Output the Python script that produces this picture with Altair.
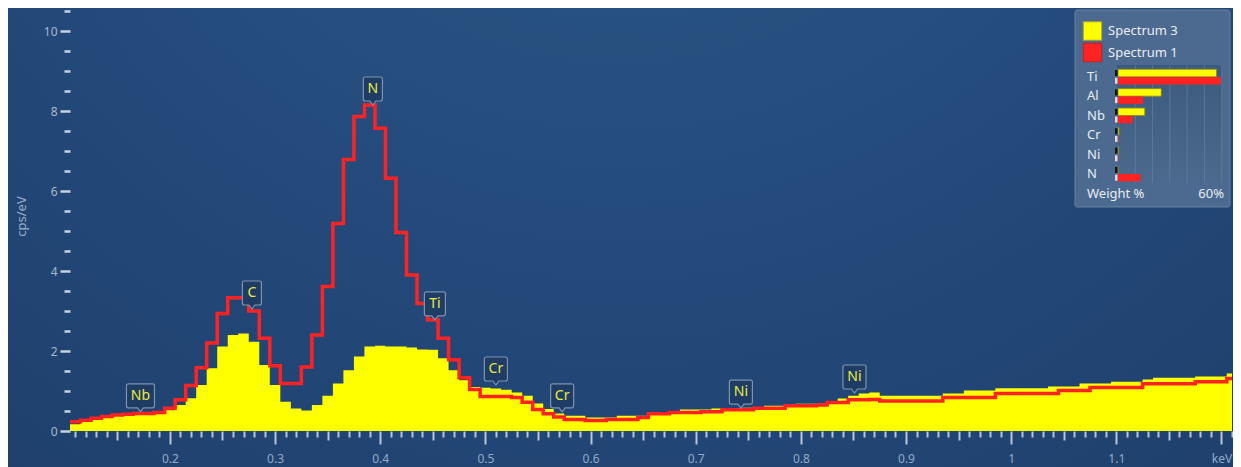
import altair as alt
import pandas as pd

FONT = "Noto Sans"

# ---------------- data ----------------
# spectra: 10 eV channels, centres 0.11 ... 1.21 keV
channel_centres = [round(0.11 + 0.01 * i, 2) for i in range(111)]
channel_width = 0.01

spectrum1 = [  # red line (Spectrum 1), cps/eV
    0.23, 0.27, 0.32, 0.36, 0.40, 0.42, 0.44, 0.44, 0.46, 0.57,
    0.78, 1.14, 1.58, 2.20, 2.94, 3.33, 3.33, 3.00, 2.32, 1.63,
    1.19, 1.19, 1.60, 2.40, 3.61, 5.19, 6.79, 7.86, 8.15, 7.57,
    6.32, 4.96, 3.90, 3.19, 2.78, 2.32, 1.78, 1.33, 1.04, 0.86,
    0.86, 0.86, 0.84, 0.72, 0.54, 0.43, 0.35, 0.29, 0.29, 0.26,
    0.26, 0.29, 0.29, 0.29, 0.34, 0.43, 0.43, 0.46, 0.46, 0.46,
    0.48, 0.48, 0.53, 0.53, 0.53, 0.57, 0.57, 0.57, 0.63, 0.63,
    0.63, 0.65, 0.71, 0.71, 0.78, 0.78, 0.79, 0.75, 0.75, 0.75,
    0.75, 0.75, 0.75, 0.84, 0.84, 0.84, 0.84, 0.84, 0.94, 0.94,
    0.94, 0.94, 0.94, 0.94, 1.01, 1.01, 1.01, 1.09, 1.09, 1.09,
    1.09, 1.09, 1.18, 1.18, 1.18, 1.18, 1.18, 1.23, 1.23, 1.23,
    1.31,
]
spectrum3 = [  # yellow area (Spectrum 3), cps/eV
    0.17, 0.23, 0.29, 0.34, 0.38, 0.41, 0.43, 0.44, 0.45, 0.52,
    0.65, 0.82, 1.15, 1.57, 2.11, 2.40, 2.44, 2.23, 1.65, 1.15,
    0.73, 0.56, 0.51, 0.65, 0.88, 1.19, 1.52, 1.86, 2.11, 2.13,
    2.11, 2.11, 2.09, 2.04, 2.03, 1.82, 1.52, 1.27, 1.10, 1.08,
    1.06, 1.03, 0.96, 0.88, 0.69, 0.55, 0.44, 0.38, 0.38, 0.34,
    0.34, 0.34, 0.38, 0.38, 0.38, 0.42, 0.46, 0.46, 0.54, 0.54,
    0.54, 0.56, 0.57, 0.57, 0.58, 0.58, 0.63, 0.63, 0.63, 0.68,
    0.68, 0.68, 0.75, 0.81, 0.88, 0.94, 0.96, 0.88, 0.88, 0.88,
    0.88, 0.88, 0.88, 0.94, 0.94, 1.01, 1.01, 1.01, 1.07, 1.07,
    1.07, 1.07, 1.07, 1.11, 1.11, 1.11, 1.19, 1.19, 1.19, 1.23,
    1.23, 1.23, 1.29, 1.33, 1.33, 1.33, 1.33, 1.36, 1.36, 1.36,
    1.44,
]

series_names = ["Spectrum 3", "Spectrum 1"]
series_colors = ["#ffff00", "#ff2222"]

# peak markers
peak_labels = ["Nb", "C", "N", "Ti", "Cr", "Cr", "Ni", "Ni"]
peak_energy = [0.172, 0.278, 0.393, 0.452, 0.510, 0.573, 0.743, 0.851]
peak_height = [0.48, 3.05, 8.15, 2.78, 1.15, 0.48, 0.57, 0.95]

# weight % mini chart in the legend
elements = ["Ti", "Al", "Nb", "Cr", "Ni", "N"]
weight_spec3 = [57.0, 25.0, 15.5, 0.6, 0.3, 0.0]
weight_spec1 = [59.5, 14.5, 8.5, 0.3, 0.2, 13.0]
weight_grid = [10, 20, 30, 40, 50, 60]
weight_max = 60

x_domain = [0.105, 1.21]
y_domain = [0, 10.5]
x_tick_values = [round(0.11 + 0.01 * i, 2) for i in range(111)]
y_tick_values = [0.5 * i for i in range(22)]

# ---------------- tables ----------------
edges = [round(c - channel_width / 2, 3) for c in channel_centres]
spec_df = pd.DataFrame({
    "e": edges + [round(channel_centres[-1] + channel_width / 2, 3)],
    "s1": spectrum1 + [spectrum1[-1]],
    "s3": spectrum3 + [spectrum3[-1]],
})
peak_df = pd.DataFrame({"el": peak_labels, "energy": peak_energy, "tip": peak_height})
mini_df = pd.DataFrame({"el": elements, "w3": weight_spec3, "w1": weight_spec1})
grid_df = pd.DataFrame({"g": weight_grid})
leg_df = pd.DataFrame({"series": series_names})
one = pd.DataFrame({"k": [0]})

W, H = 1162, 420

xs = alt.Scale(domain=x_domain, nice=False, zero=False)
ys = alt.Scale(domain=y_domain, nice=False, zero=False)

MAJ_X = "abs(datum.value*10 - round(datum.value*10)) < 0.001"
MID_X = "abs(datum.value*20 - round(datum.value*20)) < 0.001"
MAJ_Y = "abs(datum.value/2 - round(datum.value/2)) < 0.001"

x_axis = alt.Axis(
    values=x_tick_values, domain=False, grid=False, title=None, zindex=2,
    tickSize={"condition": [{"test": MAJ_X, "value": 13}, {"test": MID_X, "value": 9}], "value": 6},
    tickWidth=2, tickColor="#b8c7d8",
    labelExpr=f"{MAJ_X} ? (abs(datum.value - 1.2) < 0.001 ? 'keV' : format(datum.value, '~g')) : ''",
    labelFlush=False, labelOverlap=False, labelPadding=9, labelBaseline="top",
    labelFont=FONT, labelFontSize=12, labelColor="#93abc6",
)
y_axis = alt.Axis(
    values=y_tick_values, domain=False, grid=False, zindex=2,
    tickSize={"condition": {"test": MAJ_Y, "value": 10}, "value": 6},
    tickWidth=2.5, tickColor="#c6d2e0",
    labelExpr=f"{MAJ_Y} ? format(datum.value, 'd') : ''",
    labelOverlap=False, labelPadding=3,
    labelFont=FONT, labelFontSize=12, labelColor="#a6b8cd",
    title="cps/eV", titleFont=FONT, titleFontSize=13, titleFontWeight="normal",
    titleColor="#98adc4", titleX=-49, titleY=205, titleAngle=270,
    titleAlign="center", titleBaseline="middle",
)

# ---------------- background ----------------
bg = alt.Chart(one).mark_rect(
    color={"gradient": "radial", "x1": 0.5, "y1": 0.0, "r1": 0.0,
           "x2": 0.5, "y2": 0.0, "r2": 1.0,
           "stops": [{"offset": 0, "color": "#2d5b89"},
                     {"offset": 0.55, "color": "#23497a"},
                     {"offset": 1, "color": "#1d3c66"}]}
).encode(x=alt.value(-62), x2=alt.value(W + 1), y=alt.value(-3), y2=alt.value(H + 36))

# ---------------- spectra ----------------
area = alt.Chart(spec_df).mark_area(
    interpolate="step-after", color=series_colors[0], clip=True, opacity=1
).encode(
    x=alt.X("e:Q", scale=xs, axis=x_axis),
    y=alt.Y("s3:Q", scale=ys, axis=y_axis),
)
line = alt.Chart(spec_df).mark_line(
    interpolate="step-after", color=series_colors[1], strokeWidth=3.5, clip=True
).encode(
    x=alt.X("e:Q", scale=xs, axis=None),
    y=alt.Y("s1:Q", scale=ys, axis=None),
)


# ---------------- peak markers ----------------
def box_path(w):
    h = w / 2
    return (f"M0,0L-3,-4L{-h + 2},-4Q{-h},-4,{-h},-6L{-h},-26Q{-h},-28,{-h + 2},-28"
            f"L{h - 2},-28Q{h},-28,{h},-26L{h},-6Q{h},-4,{h - 2},-4L3,-4Z")


box_width = {"Nb": 28, "C": 19, "N": 19, "Ti": 21, "Cr": 23, "Ni": 23}
shape_domain = list(box_width)
shape_range = [box_path(box_width[k]) for k in shape_domain]

boxes = alt.Chart(peak_df).mark_point(
    filled=True, size=4, fill="#1e3c64", stroke="#7f93ad", strokeWidth=1.2,
    opacity=1, fillOpacity=1, strokeOpacity=1,
).encode(
    x=alt.X("energy:Q", scale=xs, axis=None),
    y=alt.Y("tip:Q", scale=ys, axis=None),
    shape=alt.Shape("el:N", scale=alt.Scale(domain=shape_domain, range=shape_range), legend=None),
)
box_text = alt.Chart(peak_df).mark_text(
    dy=-16, font=FONT, fontSize=14, color="#ecec3e", align="center", baseline="middle"
).encode(
    x=alt.X("energy:Q", scale=xs, axis=None),
    y=alt.Y("tip:Q", scale=ys, axis=None),
    text="el:N",
)

# ---------------- legend panel ----------------
LX0, LX1, LY0, LY1 = 1005, 1160, -1, 196
panel = alt.Chart(one).mark_rect(
    fill="#4e6c90", stroke="#6882a2", strokeWidth=1, cornerRadius=2, opacity=0.97
).encode(x=alt.value(LX0), x2=alt.value(LX1), y=alt.value(LY0), y2=alt.value(LY1))

leg_y = alt.Scale(type="point", domain=series_names, range=[20, 41.5], padding=0)
swatch = alt.Chart(leg_df).mark_square(size=340, opacity=1, strokeWidth=1).encode(
    x=alt.value(1022.5),
    y=alt.Y("series:N", scale=leg_y, axis=None),
    fill=alt.Fill("series:N", scale=alt.Scale(domain=series_names, range=series_colors), legend=None),
    stroke=alt.Stroke("series:N", scale=alt.Scale(domain=series_names, range=["#a8a430", "#c81e1e"]), legend=None),
)
swatch_text = alt.Chart(leg_df).mark_text(
    align="left", baseline="middle", font=FONT, fontSize=13, color="#e8eef5"
).encode(x=alt.value(1038), y=alt.Y("series:N", scale=leg_y, axis=None), text="series:N")

MX0, MX1, MY0, MY1 = 1047, 1152, 54, 172
mini_bg = alt.Chart(one).mark_rect(
    color={"gradient": "linear", "x1": 0, "y1": 0, "x2": 0, "y2": 1,
           "stops": [{"offset": 0, "color": "#3c5a7e"}, {"offset": 1, "color": "#4b6a8e"}]}
).encode(x=alt.value(MX0), x2=alt.value(MX1), y=alt.value(MY0), y2=alt.value(MY1))

mini_x = alt.Scale(domain=[0, weight_max], range=[1048, 1151.7], nice=False, zero=True)
mini_y = alt.Scale(type="point", domain=elements, range=[66, 163], padding=0)

mini_grid = alt.Chart(grid_df).mark_rule(color="#6a88aa", strokeWidth=1, opacity=0.55).encode(
    x=alt.X("g:Q", scale=mini_x, axis=None), y=alt.value(MY0), y2=alt.value(MY1)
)
bar3 = alt.Chart(mini_df).mark_bar(
    size=7.5, yOffset=-4, color=series_colors[0], stroke="#8f8b20", strokeWidth=0.8
).encode(x=alt.X("w3:Q", scale=mini_x, axis=None), y=alt.Y("el:N", scale=mini_y, axis=None))
bar1 = alt.Chart(mini_df).mark_bar(
    size=7.5, yOffset=3.7, color=series_colors[1]
).encode(x=alt.X("w1:Q", scale=mini_x, axis=None), y=alt.Y("el:N", scale=mini_y, axis=None))
zero3 = alt.Chart(mini_df).mark_bar(size=6, yOffset=-4, color="#111418").encode(
    x=alt.value(1045), x2=alt.value(1047.5), y=alt.Y("el:N", scale=mini_y, axis=None))
zero1 = alt.Chart(mini_df).mark_bar(size=6, yOffset=3.7, color="#e8d8e0").encode(
    x=alt.value(1045), x2=alt.value(1047.5), y=alt.Y("el:N", scale=mini_y, axis=None))
el_text = alt.Chart(mini_df).mark_text(
    align="left", baseline="middle", font=FONT, fontSize=13, color="#e8eef5"
).encode(x=alt.value(1017), y=alt.Y("el:N", scale=mini_y, axis=None), text="el:N")

foot = pd.DataFrame({"t": ["Weight %", f"{weight_max}%"]})
foot_l = alt.Chart(foot.iloc[[0]]).mark_text(
    align="left", baseline="middle", font=FONT, fontSize=13, color="#e8eef5"
).encode(x=alt.value(1017), y=alt.value(183), text="t:N")
foot_r = alt.Chart(foot.iloc[[1]]).mark_text(
    align="right", baseline="middle", font=FONT, fontSize=13, color="#e8eef5"
).encode(x=alt.value(1154), y=alt.value(183), text="t:N")

chart = alt.layer(
    bg, area, line, boxes, box_text,
    panel, swatch, swatch_text, mini_bg, mini_grid, bar3, bar1, zero3, zero1, el_text, foot_l, foot_r,
).resolve_scale(
    x="independent", y="independent", shape="independent", fill="independent", stroke="independent"
).properties(
    width=W, height=H,
    autosize=alt.AutoSizeParams(type="none"),
    padding={"left": 62, "top": 3, "right": 1, "bottom": 36},
).configure(background="#1f3f6a").configure_view(stroke=None)

chart.save("out.html", embed_options={"renderer": "svg", "actions": False})
